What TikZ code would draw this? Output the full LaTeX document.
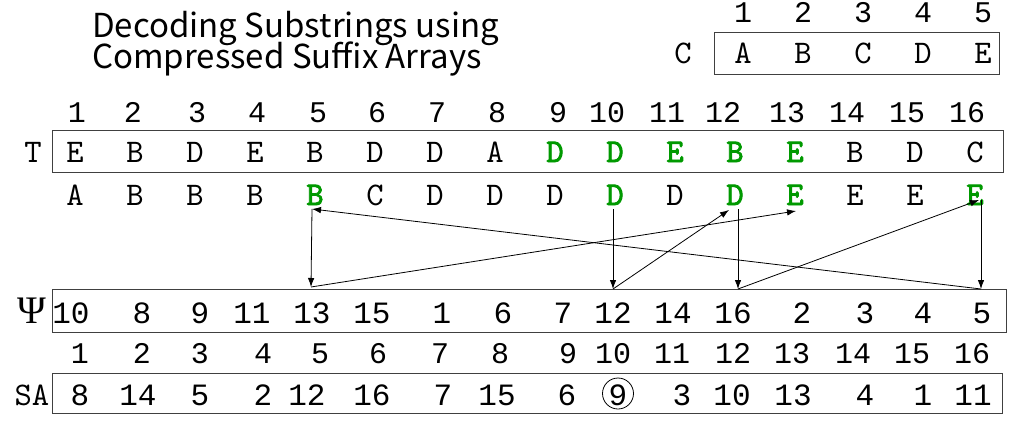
\documentclass[tikz,border=0pt]{standalone}
\usepackage{fontspec}
\usetikzlibrary{arrows.meta}
\newfontfamily\monofnt{Liberation Mono}
\newfontfamily\lettfnt{lmmono10-regular.otf}
\newfontfamily\boldfnt[FakeBold=2.4]{lmmono10-regular.otf}
\newfontfamily\titlefnt{Noto Sans CJK JP}
\newfontfamily\greekfnt{Liberation Serif}
\definecolor{hl}{RGB}{0,153,0}
\begin{document}
\begin{tikzpicture}[x=1pt,y=-1pt,
  txt/.style={anchor=base,inner sep=0pt,font=\lettfnt\fontsize{33}{33}\selectfont},
  let/.style={txt},
  glet/.style={txt,text=hl,font=\boldfnt\fontsize{33}{33}\selectfont},
  idx/.style={anchor=base,inner sep=0pt,font=\monofnt\fontsize{30}{30}\selectfont},
  num/.style={idx,font=\monofnt\fontsize{31}{31}\selectfont},
  sidx/.style={idx},
  arrbox/.style={draw=black!75,line width=1pt,inner sep=0pt},
  link/.style={line width=0.8pt,-{Latex[length=9pt,width=6.5pt]}},
  ttl/.style={anchor=base west,inner sep=0pt,font=\titlefnt\fontsize{33}{33}\selectfont}]
\useasboundingbox (0,0) rectangle (1013,423);

% title
\node[ttl] (title1) at (92,37) {Decoding Substrings using};
\node[ttl] (title2) at (92,68) {Compressed Suffix Arrays};

% C array
\node[arrbox,minimum width=285pt,minimum height=42pt] (cbox) at (856.5,53) {};
\node[txt] (clab) at (683,63) {C};
\foreach \x/\c [count=\i] in {743/A,803/B,863/C,923/D,983/E}{
  \node[idx] (ci\i) at (\x,23) {\i};
  \node[let] (c\i) at (\x,63) {\c};
}

% T row
\foreach \x [count=\i] in {77,133,197,257,318,377,437,497,558,607,667,723,787,847,907,967}{
  \node[idx] (ti\i) at (\x,122) {\i};
}
\node[arrbox,minimum width=951pt,minimum height=42pt] (tbox) at (527.5,151) {};
\node[txt] (tlab) at (33,162) {T};
\foreach \c/\s [count=\i] in {E/let,B/let,D/let,E/let,B/let,D/let,D/let,A/let,D/glet,D/glet,E/glet,B/glet,E/glet,B/let,D/let,C/let}{
  \node[\s] (t\i) at ({75+60*(\i-1)},162) {\c};
}
% sorted (F) row
\foreach \c/\s [count=\i] in {A/let,B/let,B/let,B/let,B/glet,C/let,D/let,D/let,D/let,D/glet,D/let,D/glet,E/glet,E/let,E/let,E/glet}{
  \node[\s] (f\i) at ({75+60*(\i-1)},205) {\c};
}

% Psi row
\node[arrbox,minimum width=954pt,minimum height=43pt] (pbox) at (529,310.5) {};
\node[anchor=base,inner sep=0pt,font=\greekfnt\fontsize{39}{39}\selectfont] (plab) at (32,323) {Ψ};
\foreach \x/\v [count=\i] in {71/10,142/8,200/9,252/11,312/13,372/15,442/1,503/6,563/7,613/12,673/14,733/16,802/2,865/3,923/4,982/5}{
  \node[num] (p\i) at (\x,323) {\v};
}

% SA row
\foreach \x [count=\i] in {80,142,200,263,320,378,440,500,568,613,672,733,792,853,912,972}{
  \node[sidx] (si\i) at (\x,363) {\i};
}
\node[arrbox,minimum width=950pt,minimum height=40pt] (sbox) at (527,393) {};
\node[txt] (slab) at (32,405) {SA};
\foreach \x/\v [count=\i] in {80/8,138/14,200/5,263/2,307/12,372/16,443/7,497/15,567/6,618/9,682/3,732/10,793/13,865/4,923/1,973/11}{
  \node[num] (s\i) at (\x,405) {\v};
}
\node[draw,circle,line width=0.8pt,minimum size=31pt,inner sep=0pt] (circ) at (618,393.5) {};

% connectors
\coordinate (b5) at (312,209);
\coordinate (b10) at (613,209);
\coordinate (b12) at (738,209);
\coordinate (b16) at (981,200);
\coordinate (q5) at (311,287);
\coordinate (q10) at (613,289);
\coordinate (q12) at (738,289);
\coordinate (q16) at (981,289);
\coordinate (e13) at (796,211);
\coordinate (d12) at (729,210);
\coordinate (e16) at (979,200);

\draw[link] (b5) -- (q5);
\draw[link] (q5) -- (e13);
\draw[link] (b10) -- (q10);
\draw[link] (q10) -- (d12);
\draw[link] (b12) -- (q12);
\draw[link] (q12) -- (e16);
\draw[link] (b16) -- (q16);
\draw[link] (q16) -- (b5);
\end{tikzpicture}
\end{document}
